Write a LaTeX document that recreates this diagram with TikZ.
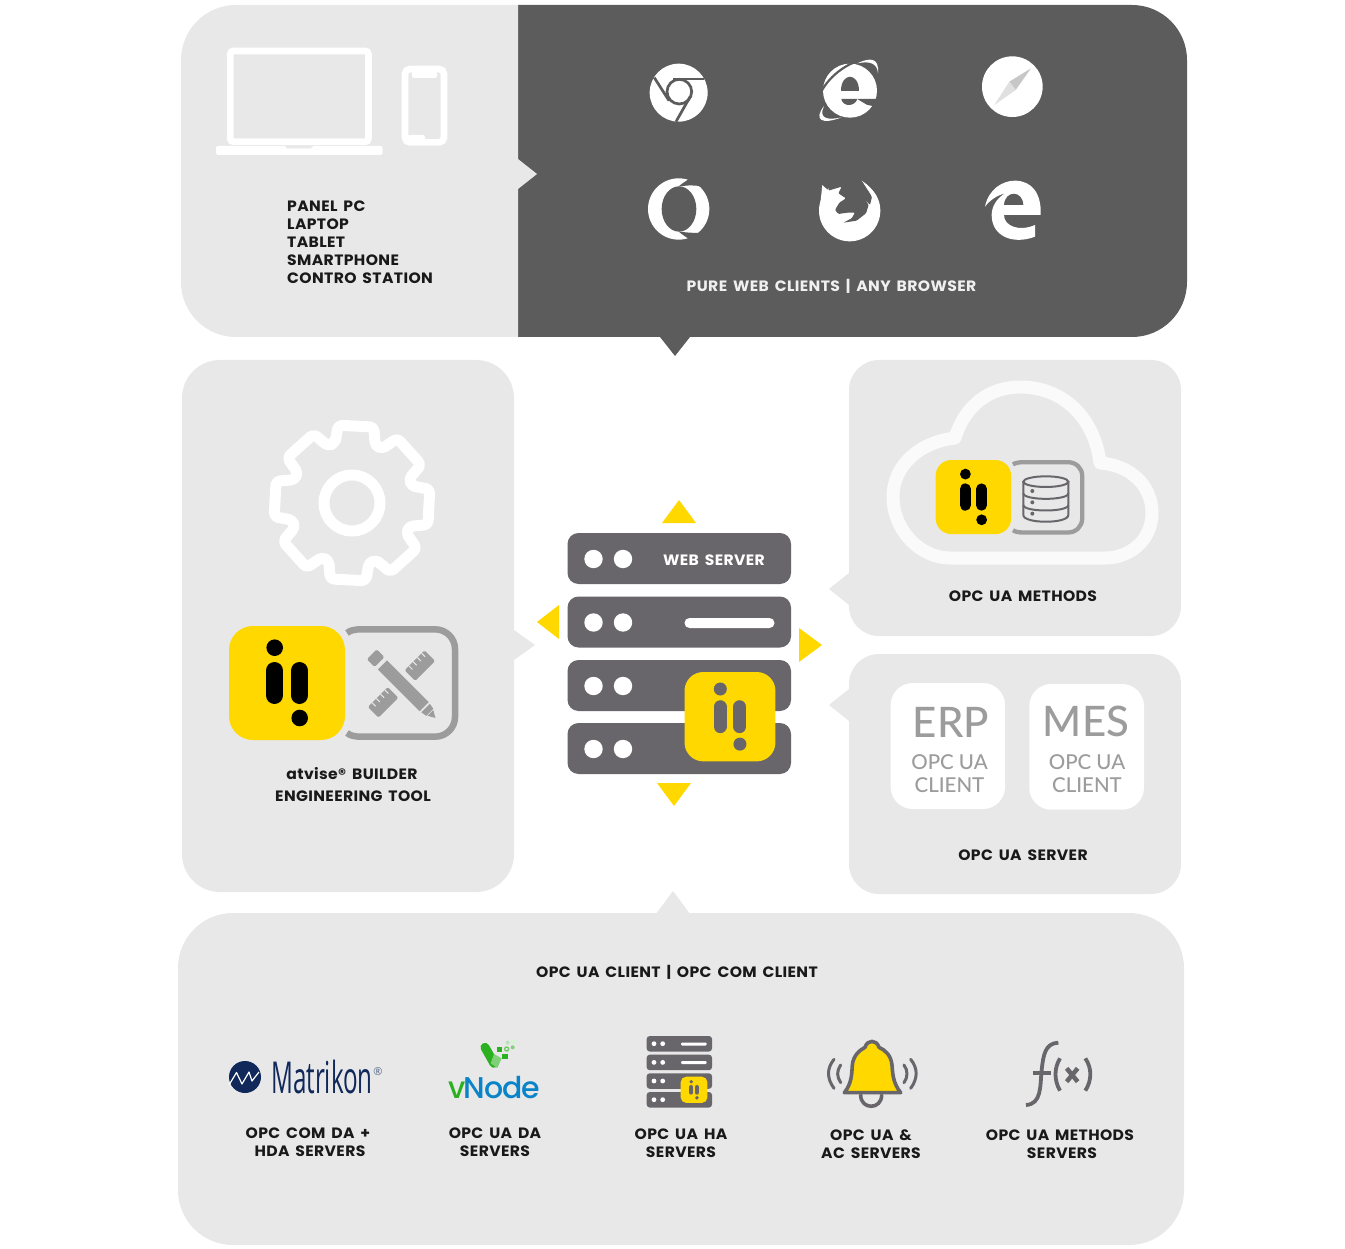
\documentclass[tikz,border=0pt]{standalone}
\usepackage{fontspec}
\setmainfont{Poppins}[BoldFont=Poppins Bold,BoldFeatures={FakeStretch=1.04,LetterSpace=2.5,WordSpace=1.6}]
\newfontfamily\erpfont{Lato Medium}
\newfontfamily\matfont{Open Sans}
\newfontfamily\vnfont{Poppins Medium}
\definecolor{panel}{HTML}{E8E8E8}
\definecolor{darkp}{HTML}{5C5C5C}
\definecolor{srv}{HTML}{68666B}
\definecolor{ylw}{HTML}{FFD800}
\definecolor{gry}{HTML}{9C9C9C}
\definecolor{navy}{HTML}{10295A}
\definecolor{vgreen}{HTML}{2BB01F}
\definecolor{vblue}{HTML}{0A84C8}
\tikzset{
  x=1pt,y=-1pt,
  lab/.style={font=\bfseries\fontsize{15}{18}\selectfont,text=black!90,inner sep=0pt},
  labl/.style={lab,anchor=west},
  erpb/.style={font=\erpfont\fontsize{42}{42}\selectfont,text=gry,inner sep=0pt},
  erps/.style={font=\erpfont\fontsize{20.5}{23.5}\selectfont,text=gry,inner sep=0pt,align=center},
  iconline/.style={draw=srv,line width=3pt,line cap=round,line join=round},
}
% args: x, y, scale, foreground colour
\newcommand{\atvlogo}[4]{%
  \begin{scope}[shift={(#1,#2)},scale=#3]
    \fill[ylw,rounded corners=#3*24pt] (0,0) rectangle (116,114);
    \fill[#4] (45.7,21.7) circle (8.3);
    \fill[#4] (70.7,92) circle (8.3);
    \draw[#4,line width=#3*17pt,line cap=round] (45.5,44.5) -- (45.5,69.5);
    \draw[#4,line width=#3*17pt,line cap=round] (70.5,44.5) -- (70.5,69.5);
  \end{scope}}
\begin{document}
\begin{tikzpicture}
\useasboundingbox (0,0) rectangle (1345,1249);
\fill[white] (0,0) rectangle (1345,1249);
%% top panel
\fill[darkp] (518,5) [rounded corners=55pt] -- (1187,5) -- (1187,337) [sharp corners] -- (518,337) -- cycle;
\fill[panel] (518,5) [rounded corners=55pt] -- (181,5) -- (181,337) [sharp corners] -- (518,337) -- cycle;
\fill[panel] (518,159) -- (537,174) -- (518,189) -- cycle;
\fill[darkp] (660,337) -- (690,337) -- (675,356) -- cycle;
%% panels
\fill[panel,rounded corners=38pt] (182,360) rectangle (514,892);
\fill[panel] (514,630) -- (535,645) -- (514,660) -- cycle;
\fill[panel,rounded corners=30pt] (849,360) rectangle (1181,636);
\fill[panel] (849,573) -- (829,589) -- (849,605) -- cycle;
\fill[panel,rounded corners=30pt] (849,654) rectangle (1181,894);
\fill[panel] (849,689) -- (829,705) -- (849,721) -- cycle;
\fill[panel,rounded corners=55pt] (178,913) rectangle (1184,1245);
\fill[panel] (656,914) -- (673,891) -- (690,914) -- cycle;
%% laptop and phone
\draw[white,line width=6.7pt,rounded corners=3pt] (230.3,51) rectangle (368.4,141.7);
\fill[white,rounded corners=1.5pt] (216,146) rectangle (382.7,155);
\fill[panel] (285,146) -- (313,146) -- (311,148.3) -- (287,148.3) -- cycle;
\draw[white,line width=6.7pt,rounded corners=5pt] (405,69) rectangle (444,142.4);
\fill[white,rounded corners=2pt] (412,68) rectangle (437,78);
\fill[white,rounded corners=2pt] (407,135) rectangle (425,142);
%% browsers: local coordinates are the 3x crop
\begin{scope}[shift={(600,30)},scale=1/3]
  % chrome
  \fill[white] (236,188) circle (87);
  \draw[darkp,line width=2.7pt] (238,185) circle (37);
  \draw[darkp,line width=2.7pt] (163,143) -- (207,212);
  \draw[darkp,line width=2.7pt] (312,147) -- (220,147);
  \draw[darkp,line width=2.7pt] (228,275) -- (271,199);
  % ie
  \fill[white] (750,182) circle (81);
  \fill[darkp] (722,182) .. controls (722,126) and (778,126) .. (778,182) -- cycle;
  \fill[darkp] (724,207) .. controls (728,231) and (764,231) .. (772,207) -- cycle;
  \fill[darkp] (772,207) -- (840,207) -- (835,232) -- (800,224) -- cycle;
  \fill[white] (772,100) .. controls (810,82) and (838,82) .. (834,130) .. controls (832,100) and (810,92) .. (772,100) -- cycle;
  \fill[white] (672,228) .. controls (640,270) and (665,285) .. (725,262) .. controls (680,272) and (655,265) .. (672,228) -- cycle;
  \draw[darkp,line width=2.2pt] (660,192) .. controls (680,150) and (720,115) .. (760,98);
  % safari
  \fill[white] (1237,170) circle (91);
  \fill[black!22] (1293,115) -- (1228,155) -- (1247,180) -- cycle;
  \fill[black!12] (1183,225) -- (1228,155) -- (1247,180) -- cycle;
  % opera
  \fill[white] (236,537) circle (92);
  \fill[darkp] (237,537) ellipse (52 and 68);
  \fill[darkp] (235,470) .. controls (265,465) and (285,465) .. (305,470) .. controls (295,460) and (285,452) .. (268,446) -- (245,462) -- cycle;
  \fill[darkp] (235,604) .. controls (265,609) and (285,609) .. (305,608) .. controls (295,618) and (285,622) .. (268,628) -- (245,612) -- cycle;
  % edge
  \fill[white] (1155,530) .. controls (1165,480) and (1205,452) .. (1245,452)
     .. controls (1295,452) and (1325,490) .. (1322,555) -- (1212,555)
     .. controls (1212,590) and (1260,605) .. (1305,585) -- (1305,620)
     .. controls (1240,645) and (1175,620) .. (1175,555)
     .. controls (1175,530) and (1190,505) .. (1215,490)
     .. controls (1190,497) and (1170,510) .. (1155,530) -- cycle;
  \fill[darkp] (1212,525) .. controls (1215,480) and (1268,480) .. (1270,525) -- cycle;
\end{scope}
% firefox
\begin{scope}[shift={(810,170)},scale=1/3]
  \fill[white] (119,122) circle (92);
  \fill[white] (37,45) -- (55,62) -- (70,70) -- (30,110) -- cycle;
  \fill[darkp,rounded corners=1pt] (55,62) -- (95,50) -- (85,70) -- (108,85) -- (88,98) -- (75,120) -- (85,132) -- (112,128) -- (135,128)
     -- (125,145) -- (100,158) -- (140,152) -- (168,130) -- (176,105) -- (162,85) -- (180,105) -- (186,80) -- (155,32) -- (100,20) -- (60,30) -- cycle;
  \fill[white] (155,32) .. controls (185,50) and (215,90) .. (205,130) -- (190,110) .. controls (192,85) and (180,60) .. (155,32) -- cycle;
\end{scope}
%% top labels
\node[labl] (d1) at (287,206) {PANEL PC};
\node[labl] (d2) at (287,224) {LAPTOP};
\node[labl] (d3) at (287,242) {TABLET};
\node[labl] (d4) at (287,260) {SMARTPHONE};
\node[labl] (d5) at (287,278) {CONTRO STATION};
\node[lab,text=white!94!black] (web) at (831.5,286) {PURE WEB CLIENTS | ANY BROWSER};
%% gear
\begin{scope}[shift={(352,503)}]
  \draw[white,line width=11pt,line join=round,rounded corners=4pt]
    (-87-19:62) foreach \a in {-87,-42,3,48,93,138,183,228} { -- (\a-13:79) -- (\a+13:79) -- (\a+19:62) -- (\a+26:62) } -- cycle;
  \draw[white,line width=11pt] (0,0) circle (28);
\end{scope}
%% builder logo
\draw[gry,line width=6.5pt] (347,633) .. controls (350,630.5) and (354,629.3) .. (362,629.3) -- (435,629.3)
  .. controls (446,629.3) and (455,638) .. (455,649) -- (455,717)
  .. controls (455,728) and (446,736.7) .. (435,736.7) -- (362,736.7)
  .. controls (354,736.7) and (350,735.5) .. (347,733);
\atvlogo{229}{626}{1}{black}
\begin{scope}[shift={(401.5,684)}]
  \begin{scope}[rotate=45]
    \fill[gry,rounded corners=1.5pt] (-40,-7.5) rectangle (-12,7.5);
    \fill[gry,rounded corners=1.5pt] (12,-7.5) rectangle (40,7.5);
    \foreach \t in {-34,-28,-22,-16,18,24,30,36} \draw[panel,line width=1pt] (\t,-7.5) -- (\t,-2.5);
  \end{scope}
  \begin{scope}[rotate=-45]
    \draw[panel,line width=3pt] (-32,-8) rectangle (32,8);
    \fill[gry] (-27,-6.5) -- (32,-6.5) -- (32,6.5) -- (-27,6.5) -- cycle;
    \fill[gry,rounded corners=1.5pt] (-42,-7) rectangle (-31,7);
    \fill[gry] (34,-6) -- (40,-5) -- (40,5) -- (34,6) -- cycle;
    \fill[gry] (41,-4) -- (48,0) -- (41,4) -- cycle;
  \end{scope}
\end{scope}
\node[lab] (atv1) at (352,774) {atvise® BUILDER};
\node[lab] (atv2) at (353,796) {ENGINEERING TOOL};
%% server
\foreach \y in {533,596.5,660,723}{
  \fill[srv,rounded corners=11pt] (567.5,\y) rectangle (791,\y+51);
  \fill[white] (593.5,\y+26) circle (9.2);
  \fill[white] (623,\y+26) circle (9.2);
}
\node[lab,text=white] (wsv) at (714,560) {WEB SERVER};
\fill[white,rounded corners=5pt] (684.5,618) rectangle (774.5,628);
\atvlogo{684.5}{672}{0.784}{srv}
\fill[ylw] (662,523) -- (679,500) -- (696,523) -- cycle;
\fill[ylw] (559,605) -- (537,622) -- (559,639) -- cycle;
\fill[ylw] (799,628) -- (822,645) -- (799,662) -- cycle;
\fill[ylw] (657,783) -- (674,806) -- (691,783) -- cycle;
%% cloud
\draw[white!80!panel,line width=13pt,line join=round]
  (955,438) .. controls (965,405) and (990,387) .. (1020,387)
  .. controls (1065,387) and (1095,420) .. (1100,463)
  .. controls (1130,465) and (1152,485) .. (1152,513)
  .. controls (1152,540) and (1130,558) .. (1105,558) -- (950,558)
  .. controls (920,558) and (893,530) .. (893,497)
  .. controls (893,465) and (920,442) .. (955,438) -- cycle;
\draw[gry,line width=4.3pt] (1013,464.5) .. controls (1015,463) and (1018,462.2) .. (1024,462.2) -- (1068,462.2)
  .. controls (1076,462.2) and (1082.2,468) .. (1082.2,476) -- (1082.2,518.5)
  .. controls (1082.2,526.5) and (1076,532.5) .. (1068,532.5) -- (1024,532.5)
  .. controls (1018,532.5) and (1015,531.7) .. (1013,530.2);
\atvlogo{935.7}{460}{0.65}{black}
\begin{scope}[shift={(870,370)},scale=1/3]
  \draw[srv,line width=2pt] (460,335) -- (460,435) .. controls (460,462) and (595,462) .. (595,435) -- (595,335);
  \draw[srv,line width=2pt] (527.5,335) ellipse (67.5 and 16);
  \draw[srv,line width=2pt] (460,370) .. controls (460,392) and (595,392) .. (595,370);
  \draw[srv,line width=2pt] (460,405) .. controls (460,427) and (595,427) .. (595,405);
  \fill[srv] (487,363) circle (6);
  \fill[srv] (487,397) circle (6);
  \fill[srv] (487,431) circle (6);
\end{scope}
\node[lab] (m1) at (1023,596) {OPC UA METHODS};
%% ERP/MES
\fill[white,rounded corners=22pt] (890.7,683) rectangle (1005,809);
\fill[white,rounded corners=22pt] (1029.3,684) rectangle (1144,809.7);
\node[erpb] (erp) at (951,722) {ERP};
\node[erps] (erpc) at (949.5,773.5) {OPC UA\\CLIENT};
\node[erpb] (mes) at (1086,721) {MES};
\node[erps] (mesc) at (1087,773.5) {OPC UA\\CLIENT};
\node[lab] (s1) at (1023,855) {OPC UA SERVER};
%% bottom
\node[lab] (b0) at (677,972) {OPC UA CLIENT | OPC COM CLIENT};
\fill[navy] (245,1077) circle (16);
\draw[white,line width=1.2pt,line join=round] (229,1085) -- (236.5,1072.5) -- (242,1084) -- (249,1072) -- (252,1081) -- (259,1072);
\node[inner sep=0pt,text=navy,font=\matfont\fontsize{44}{44}\selectfont,anchor=west] (mat) at (271,1077) {\scalebox{0.55}[1]{Matrikon}};
\node[inner sep=0pt,text=navy!70,font=\matfont\fontsize{11}{11}\selectfont] (matr) at (378,1072) {®};
% vnode
\begin{scope}[shift={(210,1030)},scale=1/3]
  \draw[vgreen,line width=9pt,line cap=round,line join=round] (825,52) -- (852,100);
  \fill[vgreen!60] (852,72) -- (875,85) -- (862,114) -- (842,100) -- cycle;
  \fill[vgreen] (877,71) rectangle (894,88);
  \fill[vgreen] (861,52) rectangle (877,67);
  \draw[vgreen!70,line width=1.3pt] (890,57) circle (6);
  \fill[vgreen!60] (908,52) circle (6);
  \fill[vgreen!35] (893,38) circle (6);
  \fill[vgreen!18] (912,35) circle (8);
\end{scope}
\node[inner sep=0pt,font=\vnfont\fontsize{30}{30}\selectfont,anchor=center] (vn) at (494.5,1088) {\textcolor{vgreen}{v}\kern-2.5pt\textcolor{vblue}{N\kern-1pt o\kern-1pt d\kern-1pt e}};
% small server
\foreach \y in {1036,1054.7,1073.3,1092}{
  \fill[srv,rounded corners=3pt] (646.7,\y) rectangle (712,\y+15.5);
  \fill[white] (654,\y+7.7) circle (2.4);
  \fill[white] (662.7,\y+7.7) circle (2.4);
}
\fill[white,rounded corners=1.2pt] (681,1042.5) rectangle (706.7,1045.5);
\fill[white,rounded corners=1.2pt] (681,1061) rectangle (706.7,1064);
\atvlogo{680.7}{1076.7}{0.23}{srv}
% bell
\begin{scope}[shift={(810,1030)},scale=1/3]
  \draw[iconline,line width=3.6pt] (152,195) .. controls (152,240) and (215,240) .. (215,195);
  \draw[iconline,line width=3.6pt,fill=ylw] (103,188) .. controls (125,160) and (125,135) .. (127,105)
    .. controls (130,75) and (150,60) .. (165,52) .. controls (172,28) and (200,28) .. (207,52)
    .. controls (225,60) and (243,75) .. (246,105) .. controls (248,135) and (250,160) .. (272,188) -- cycle;
  \draw[iconline] (72,88) .. controls (50,115) and (50,145) .. (72,175);
  \draw[iconline] (92,105) .. controls (80,122) and (80,140) .. (92,158);
  \draw[iconline] (302,88) .. controls (324,115) and (324,145) .. (302,175);
  \draw[iconline] (282,105) .. controls (294,122) and (294,140) .. (282,158);
  % f(x)
  \draw[srv,line width=3.8pt] (745,38) .. controls (705,40) and (700,75) .. (695,120) .. controls (690,170) and (695,222) .. (648,225);
  \draw[srv,line width=3.8pt] (668,130) -- (722,130);
  \draw[srv,line width=3.8pt] (750,85) .. controls (732,115) and (732,150) .. (750,182);
  \draw[srv,line width=3.8pt] (826,85) .. controls (846,115) and (846,150) .. (826,182);
  \draw[srv,line width=4.5pt] (770,115) -- (803,155);
  \draw[srv,line width=4.5pt] (803,115) -- (770,155);
\end{scope}
\node[lab] (c1a) at (308,1133) {OPC COM DA +};
\node[lab] (c1b) at (310,1151) {HDA SERVERS};
\node[lab] (c2a) at (495,1133) {OPC UA DA};
\node[lab] (c2b) at (495,1151) {SERVERS};
\node[lab] (c3a) at (681,1134) {OPC UA HA};
\node[lab] (c3b) at (681,1152) {SERVERS};
\node[lab] (c4a) at (871,1135) {OPC UA \&};
\node[lab] (c4b) at (871,1153) {AC SERVERS};
\node[lab] (c5a) at (1060,1135) {OPC UA METHODS};
\node[lab] (c5b) at (1062,1153) {SERVERS};
\end{tikzpicture}
\end{document}
